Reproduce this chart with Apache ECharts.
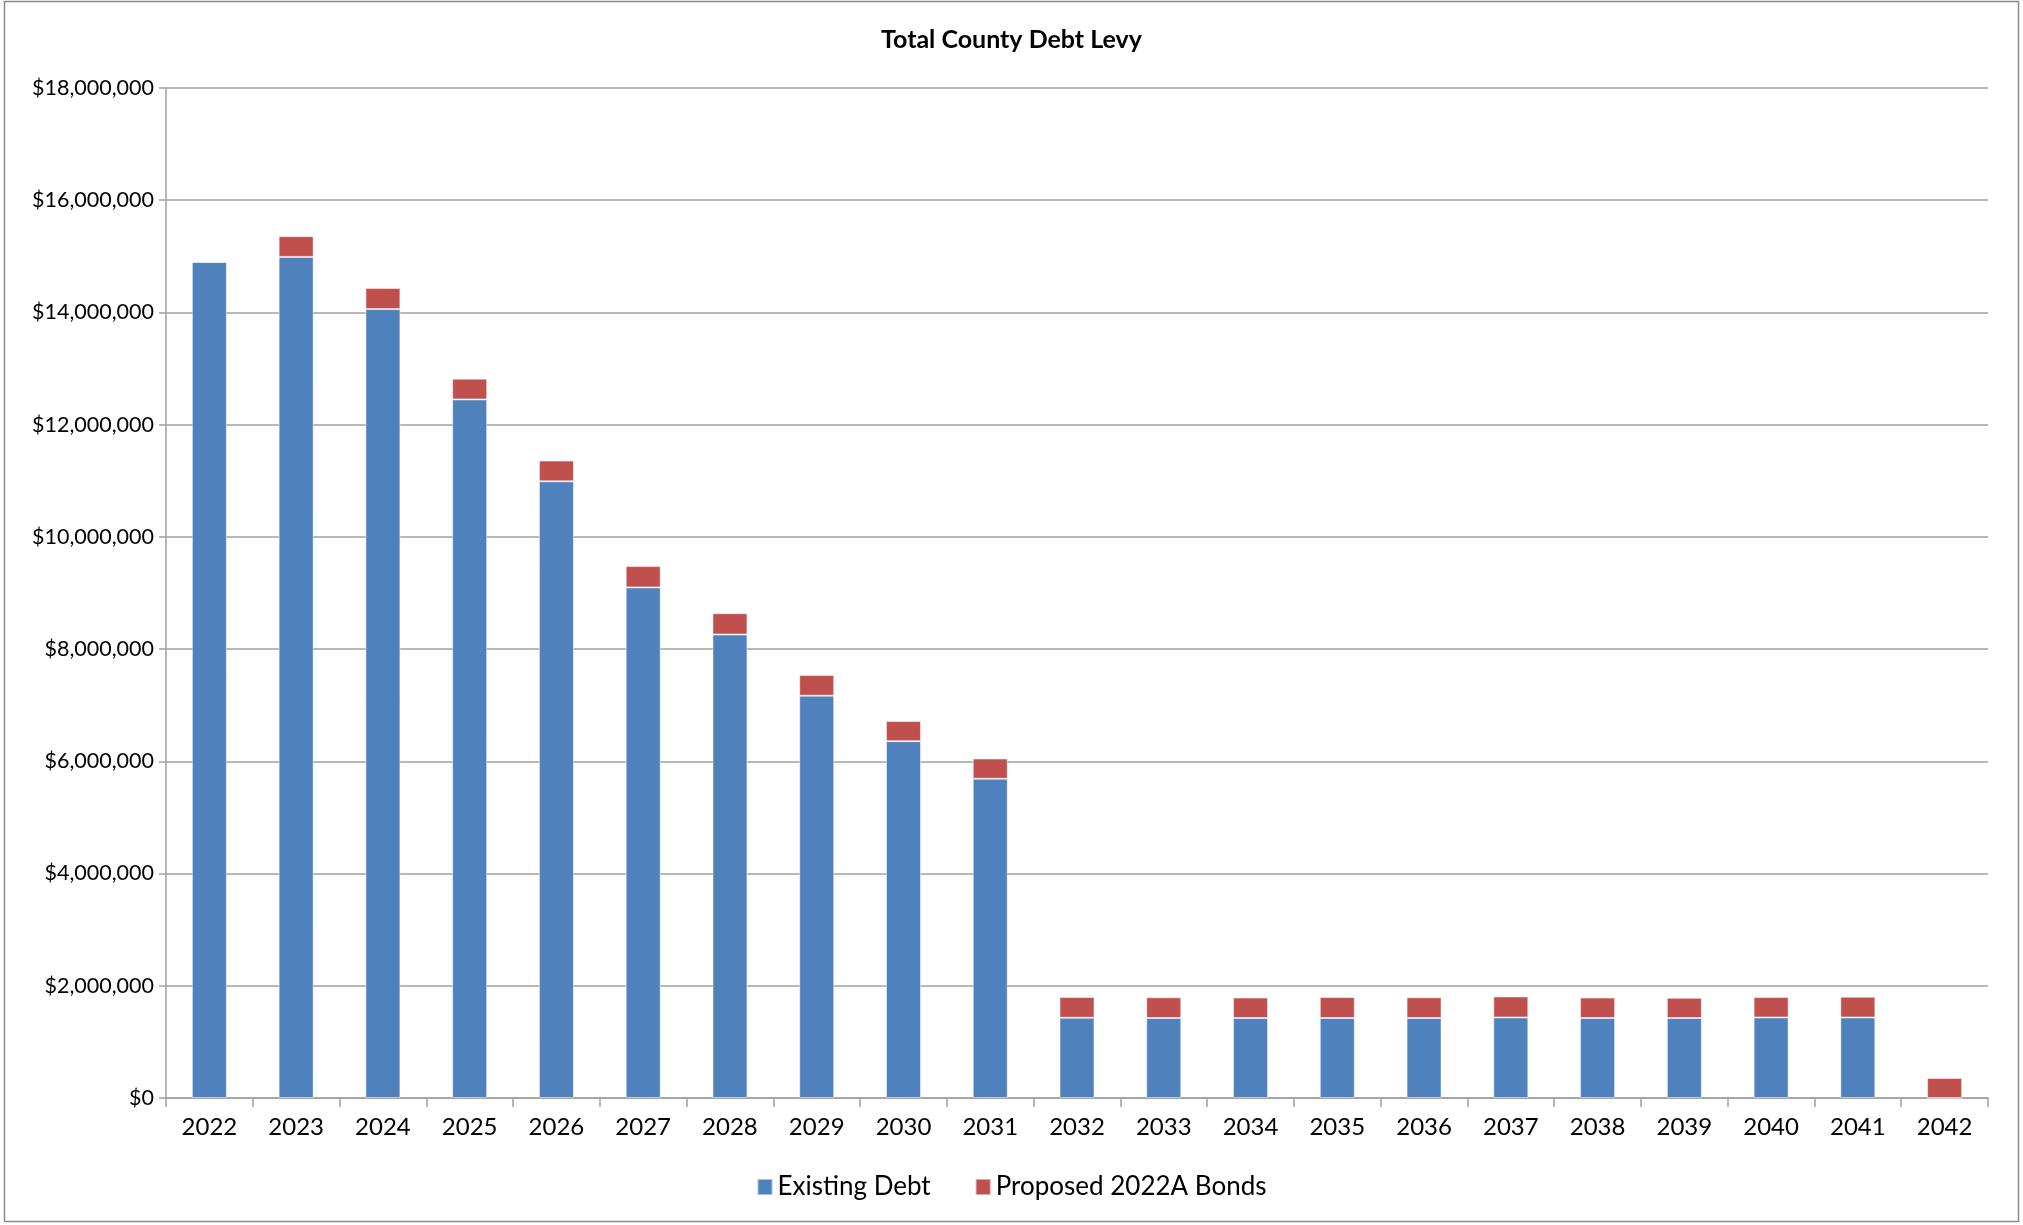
<!DOCTYPE html>
<html>
<head>
<meta charset="utf-8">
<script src="https://cdn.jsdelivr.net/npm/echarts@6/dist/echarts.min.js"></script>
<style>
  html, body { margin: 0; padding: 0; background: #fff; }
  #chart { width: 2023px; height: 1225px; }
</style>
</head>
<body>
<div id="chart"></div>
<script>
const years = ['2022', '2023', '2024', '2025', '2026', '2027', '2028', '2029', '2030', '2031',
  '2032', '2033', '2034', '2035', '2036', '2037', '2038', '2039', '2040', '2041', '2042']

const existingDebt = [14900000, 14990000, 14060000, 12450000, 10990000, 9100000, 8260000, 7170000,
  6360000, 5690000, 1430000, 1425000, 1425000, 1425000, 1425000, 1435000, 1425000, 1425000,
  1435000, 1435000, 0]

const proposedBonds = [0, 370000, 375000, 370000, 370000, 380000, 380000, 370000, 360000, 360000,
  370000, 370000, 365000, 375000, 370000, 375000, 365000, 360000, 365000, 370000, 356000]

const font = 'Lato, "Noto Sans", sans-serif'
const gray = '#a0a0a0'

const chart = echarts.init(document.getElementById('chart'))

const money = v => '$' + v.toLocaleString('en-US')

chart.setOption({
  animation: false,
  textStyle: { fontFamily: font, color: '#000' },
  title: {
    text: 'Total County Debt Levy',
    left: 'center',
    top: 22,
    textStyle: { fontFamily: font, fontSize: 25, fontWeight: 'bold', color: '#000' }
  },
  graphic: [{
    type: 'rect',
    shape: { x: 4.5, y: 1.5, width: 2014, height: 1220 },
    style: { fill: 'none', stroke: '#8c8c8c', lineWidth: 1.5 },
    silent: true
  }],
  legend: {
    bottom: 20,
    left: 'center',
    itemWidth: 15,
    itemHeight: 16,
    itemGap: 44,
    textStyle: { fontFamily: font, fontSize: 26, color: '#000' },
    data: [
      { name: 'Existing Debt', icon: 'rect' },
      { name: 'Proposed 2022A Bonds', icon: 'rect' }
    ]
  },
  grid: { left: 166, right: 35, top: 88, bottom: 127 },
  xAxis: {
    type: 'category',
    data: years,
    axisLine: { lineStyle: { color: gray, width: 1.5 } },
    axisTick: { show: true, length: 9, lineStyle: { color: gray, width: 1.5 } },
    axisLabel: { fontFamily: font, fontSize: 24, color: '#000', margin: 17 }
  },
  yAxis: {
    type: 'value',
    min: 0,
    max: 18000000,
    interval: 2000000,
    axisLine: { show: true, lineStyle: { color: gray, width: 1.5 } },
    axisTick: { show: true, length: 7, lineStyle: { color: gray, width: 1.5 } },
    splitLine: { lineStyle: { color: gray, width: 1.5 } },
    axisLabel: { fontFamily: font, fontSize: 21.5, color: '#000', margin: 12, formatter: money }
  },
  series: [
    {
      name: 'Existing Debt',
      type: 'bar',
      stack: 'levy',
      barWidth: 35,
      data: existingDebt,
      itemStyle: { color: '#4f81bd', borderColor: 'rgba(255,255,255,0.5)', borderWidth: 1 }
    },
    {
      name: 'Proposed 2022A Bonds',
      type: 'bar',
      stack: 'levy',
      barWidth: 35,
      data: proposedBonds,
      itemStyle: { color: '#c0504d', borderColor: 'rgba(255,255,255,0.5)', borderWidth: 1 }
    }
  ]
})

window.addEventListener('resize', () => {
  chart.resize()
})
</script>
</body>
</html>
